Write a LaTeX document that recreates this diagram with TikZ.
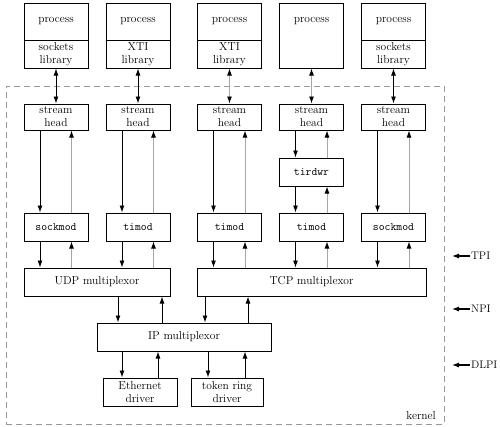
\documentclass[tikz,border=0pt]{standalone}
\usetikzlibrary{arrows.meta}
\begin{document}
\begin{tikzpicture}[x=1pt,y=-1pt,
  box/.style={draw,line width=1pt,minimum width=64pt,minimum height=28pt,inner sep=0pt,align=center,font=\fontsize{11.5}{13}\selectfont},
  mbox/.style={box,font=\ttfamily\fontsize{11.4}{13}\selectfont},
  lbl/.style={font=\fontsize{11.5}{13}\selectfont,inner sep=0pt,align=center},
  dn/.style={line width=0.9pt,-{Latex[length=7pt,width=5pt]}},
  upg/.style={line width=0.9pt,gray!70,-{Latex[length=7pt,width=5pt,color=black]}},
  upk/.style={line width=0.9pt,-{Latex[length=7pt,width=5pt]}},
  bi/.style={line width=0.9pt,{Latex[length=7pt,width=5pt,color=black]}-{Latex[length=7pt,width=5pt,color=black]}},
  side/.style={line width=1.1pt,-{Latex[length=7pt,width=5pt]}}
]
\useasboundingbox (0,0) rectangle (500,426);
% kernel boundary
\node[draw=gray!80,dash pattern=on 6pt off 4pt,line width=1pt,minimum width=438pt,minimum height=338pt,inner sep=0pt] (kern) at (225,255) {};
\node[lbl,anchor=south east] (kt) at (436,420) {kernel};

% process boxes
\foreach \i/\cx in {1/56,2/138,3/229.5,4/311.5,5/393.5}{
  \node[box,minimum height=65pt] (p\i) at (\cx,35.5) {};
  \node[lbl] (pt\i) at (\cx,21.5) {process};
}
\foreach \i/\cx in {1/56,2/138,3/229.5,5/393.5}{
  \draw[line width=1pt] (\cx-32,40) -- (\cx+32,40);
}
\node[lbl] (lib1) at (56,54) {sockets\\library};
\node[lbl] (lib2) at (138,54) {XTI\\library};
\node[lbl] (lib3) at (229.5,54) {XTI\\library};
\node[lbl] (lib5) at (393.5,54) {sockets\\library};

% stream heads
\foreach \i/\cx in {1/56,2/138,3/229.5,4/311.5,5/393.5}{
  \node[box,minimum height=26pt] (sh\i) at (\cx,117) {stream\\head};
}
% modules
\node[mbox] (m1) at (56,227) {sockmod};
\node[mbox] (m2) at (138,227) {timod};
\node[mbox] (m3) at (229.5,227) {timod};
\node[mbox] (m4) at (311.5,227) {timod};
\node[mbox] (m5) at (393.5,227) {sockmod};
\node[mbox] (tw) at (311.5,172) {tirdwr};

% multiplexors
\node[box,minimum width=146pt] (udp) at (97,282) {UDP multiplexor};
\node[box,minimum width=229pt] (tcp) at (311.5,282) {TCP multiplexor};
\node[box,minimum width=174pt] (ip) at (184,337) {IP multiplexor};
\node[box,minimum width=74pt] (eth) at (140,392) {Ethernet\\driver};
\node[box,minimum width=72pt] (tok) at (227,392) {token ring\\driver};

% process <-> stream head
\draw[bi] (p1.south) -- (sh1.north);
\draw[bi] (p2.south) -- (sh2.north);
\draw[bi,gray!70] (p3.south) -- (sh3.north);
\draw[bi,gray!70] (p4.south) -- (sh4.north);
\draw[bi] (p5.south) -- (sh5.north);

% stream head <-> modules
\foreach \i in {1,2,3,5}{
  \draw[dn] ([xshift=-16pt]sh\i.south) -- ([xshift=-16pt]m\i.north);
  \draw[upg] ([xshift=15.5pt]m\i.north) -- ([xshift=15.5pt]sh\i.south);
}
\draw[dn] ([xshift=-16pt]sh4.south) -- ([xshift=-16pt]tw.north);
\draw[upg] ([xshift=15.5pt]tw.north) -- ([xshift=15.5pt]sh4.south);
\draw[dn] ([xshift=-16pt]tw.south) -- ([xshift=-16pt]m4.north);
\draw[upg] ([xshift=15.5pt]m4.north) -- ([xshift=15.5pt]tw.south);

% modules <-> multiplexors
\foreach \i/\mx in {1/udp,2/udp,3/tcp,4/tcp,5/tcp}{
  \draw[dn] ([xshift=-16pt]m\i.south) -- ([xshift=-16pt]m\i.south |- \mx.north);
  \draw[upg] ([xshift=15.5pt]m\i.south |- \mx.north) -- ([xshift=15.5pt]m\i.south);
}

% multiplexors <-> IP
\draw[dn] (118,0 |- udp.south) -- (118,0 |- ip.north);
\draw[upk] (162,0 |- ip.north) -- (162,0 |- udp.south);
\draw[dn] (205,0 |- tcp.south) -- (205,0 |- ip.north);
\draw[upk] (248,0 |- ip.north) -- (248,0 |- tcp.south);

% IP <-> drivers
\draw[dn] (122,0 |- ip.south) -- (122,0 |- eth.north);
\draw[upk] (158,0 |- eth.north) -- (158,0 |- ip.south);
\draw[dn] (208,0 |- ip.south) -- (208,0 |- tok.north);
\draw[upk] (245,0 |- tok.north) -- (245,0 |- ip.south);

% interface labels
\node[lbl,anchor=west,font=\fontsize{11}{13}\selectfont] (tpi) at (471,256) {TPI};
\node[lbl,anchor=west,font=\fontsize{11}{13}\selectfont] (npi) at (471,309) {NPI};
\node[lbl,anchor=west,font=\fontsize{11}{13}\selectfont] (dlpi) at (471,365) {DLPI};
\draw[side] ([xshift=-1pt]tpi.west) -- ++(-18,0);
\draw[side] ([xshift=-1pt]npi.west) -- ++(-18,0);
\draw[side] ([xshift=-1pt]dlpi.west) -- ++(-18,0);
\end{tikzpicture}
\end{document}
